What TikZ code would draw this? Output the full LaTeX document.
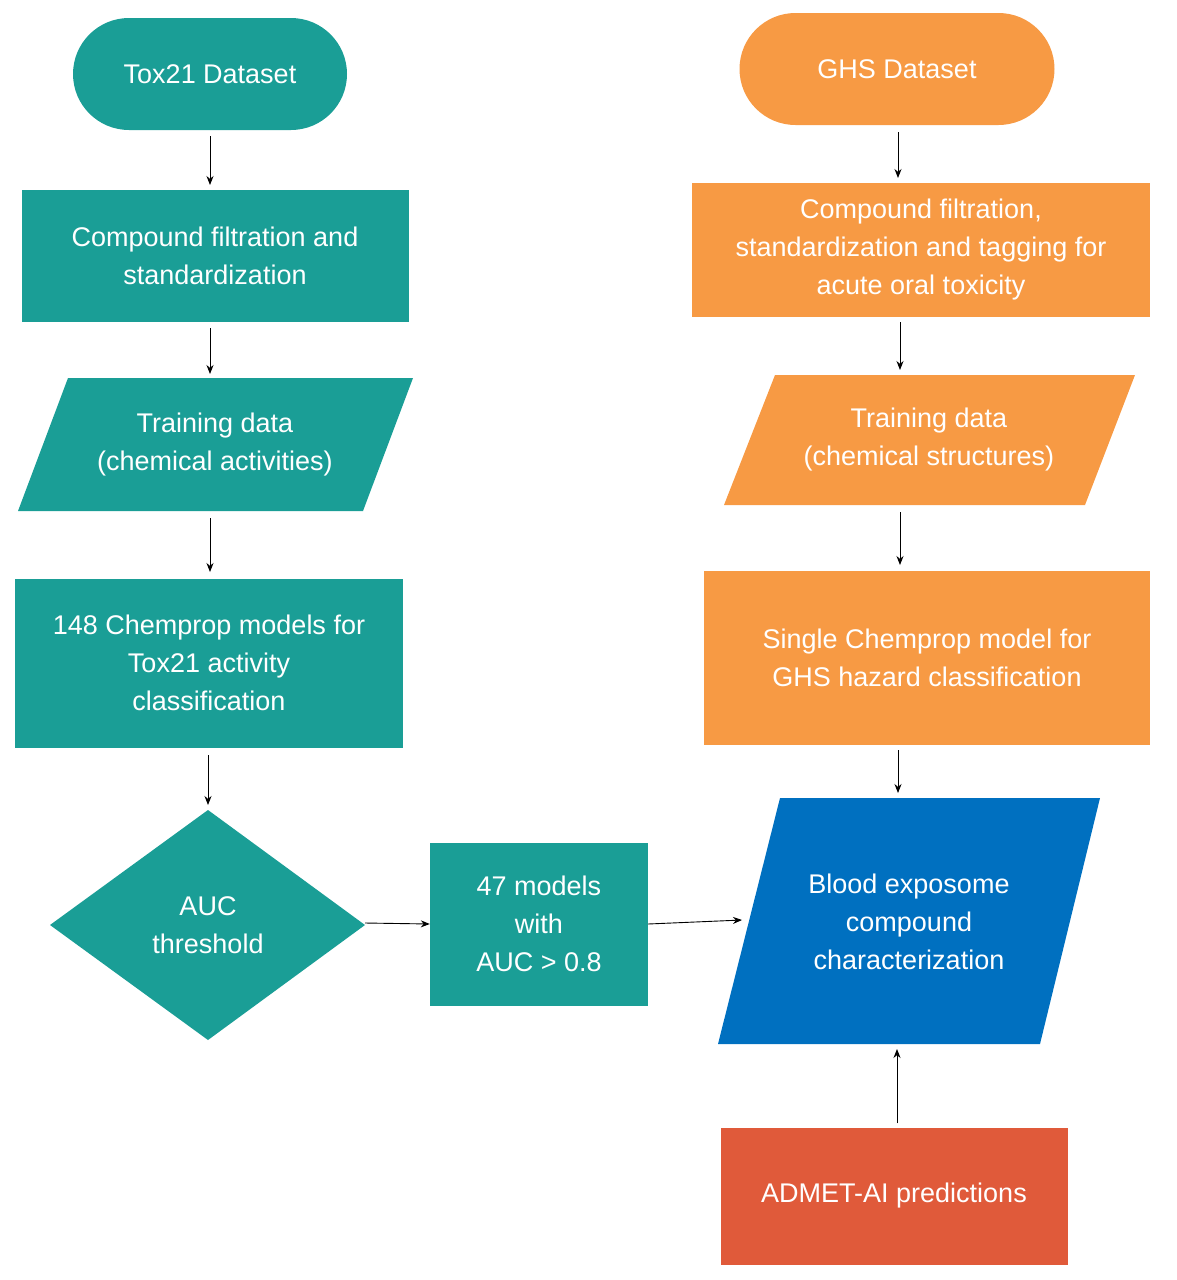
\documentclass[tikz,border=0pt]{standalone}
\usepackage{fontspec}
\setmainfont{Liberation Sans}
\usetikzlibrary{shapes.geometric,arrows.meta}
\definecolor{teal1}{HTML}{1A9E96}
\definecolor{orng}{HTML}{F79A44}
\definecolor{blu}{HTML}{0070C0}
\definecolor{redd}{HTML}{E05A3A}
\begin{document}
\begin{tikzpicture}[x=1pt,y=-1pt,
 txt/.style={text=white,align=center,font=\fontsize{27}{38}\selectfont,inner sep=0pt},
 box/.style={txt,draw=none,minimum width=#1},
 arr/.style={-{Stealth[length=9pt,width=7pt]},line width=0.9pt}]
\useasboundingbox (0,0) rectangle (1176,1280);
% left column
\node[txt,fill=teal1,rounded corners=56pt,minimum width=274pt,minimum height=112pt] (tox) at (210,74) {Tox21 Dataset};
\node[txt,fill=teal1,minimum width=387pt,minimum height=132pt] (cf1) at (215,256) {Compound filtration and\\standardization};
\fill[teal1] (68,378) -- (413,378) -- (363,511) -- (18,511) -- cycle;
\node[txt] (td1) at (215,445) {Training data\\(chemical activities)};
\coordinate (td1t) at (210,378); \coordinate (td1b) at (210,511);
\node[txt,fill=teal1,minimum width=388pt,minimum height=169pt] (cp1) at (209,663) {148 Chemprop models for\\Tox21 activity\\classification};
\fill[teal1] (208,810) -- (365,925) -- (208,1040) -- (50,925) -- cycle;
\node[txt] (auc) at (208,925) {AUC\\threshold};
\coordinate (dt) at (208,810); \coordinate (dr) at (365,923);
\node[txt,fill=teal1,minimum width=218pt,minimum height=163pt] (m47) at (539,924) {47 models\\with\\AUC > 0.8};
% right column
\node[txt,fill=orng,rounded corners=56pt,minimum width=315pt,minimum height=112pt] (ghs) at (897,69) {GHS Dataset};
\node[txt,fill=orng,minimum width=458pt,minimum height=134pt] (cf2) at (921,250) {Compound filtration,\\standardization and tagging for\\acute oral toxicity};
\fill[orng] (775,375) -- (1135,375) -- (1085,505) -- (724,505) -- cycle;
\node[txt] (td2) at (929,440) {Training data\\(chemical structures)};
\coordinate (td2t) at (900,375); \coordinate (td2b) at (900,505);
\node[txt,fill=orng,minimum width=446pt,minimum height=174pt] (cp2) at (927,658) {Single Chemprop model for\\GHS hazard classification};
\fill[blu] (780,798) -- (1100,798) -- (1040,1044) -- (718,1044) -- cycle;
\node[txt] (bl) at (909,922) {Blood exposome\\compound\\characterization};
\coordinate (blt) at (898,798); \coordinate (blb) at (897,1044); \coordinate (bll) at (742,920);
\node[txt,fill=redd,minimum width=347pt,minimum height=137pt] (adm) at (894,1196) {ADMET-AI predictions};
% arrows
\draw[arr] (tox.south -| 210,0) ++(0,6) -- (210,185);
\draw[arr] (210,328) -- (210,374);
\draw[arr] (210,518) -- (210,572);
\draw[arr] (208,755) -- (208,805);
\draw[arr] (dr) -- (m47.west);
\draw[arr] (m47.east) -- (bll);
\draw[arr] (898,132) -- (898,178);
\draw[arr] (900,322) -- (900,370);
\draw[arr] (900,512) -- (900,565);
\draw[arr] (898,750) -- (898,793);
\draw[arr] (adm.north -| 897,0) ++(0,-4) -- (897,1049);
\end{tikzpicture}
\end{document}
